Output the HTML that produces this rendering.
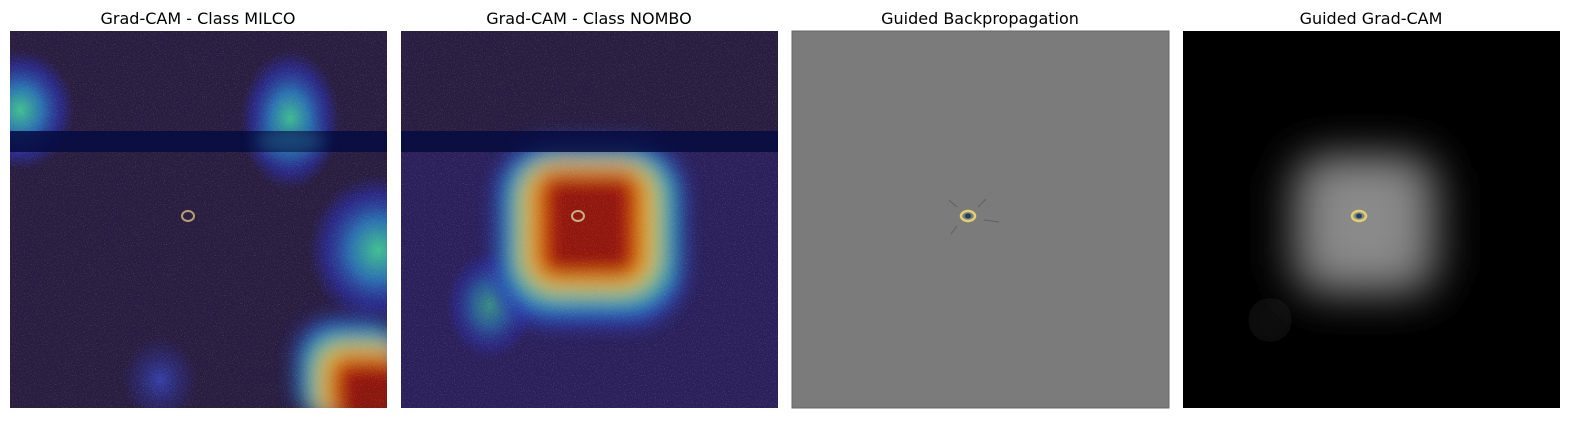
<!DOCTYPE html>
<html><head><meta charset="utf-8"><style>
html,body{margin:0;padding:0;background:#fff;width:1589px;height:423px;overflow:hidden;font-family:"DejaVu Sans","Liberation Sans",sans-serif}
#wrap{position:absolute;left:0;top:0;width:1589px;height:423px;overflow:hidden}
svg{display:block;overflow:hidden}
</style></head><body>
<div id="wrap">
<svg width="1589" height="423" viewBox="0 0 1589 423" xmlns="http://www.w3.org/2000/svg">
<defs>
<filter id="b8" x="-50%" y="-50%" width="200%" height="200%"><feGaussianBlur stdDeviation="8"/></filter>
<filter id="b10a" filterUnits="userSpaceOnUse" x="0" y="0" width="420" height="440"><feGaussianBlur stdDeviation="10"/></filter>
<filter id="b10b" filterUnits="userSpaceOnUse" x="401" y="31" width="377" height="377"><feGaussianBlur stdDeviation="10"/></filter>
<filter id="b20" filterUnits="userSpaceOnUse" x="1183" y="31" width="377" height="377"><feGaussianBlur stdDeviation="20"/></filter>
<filter id="noise" x="0" y="0" width="100%" height="100%"><feTurbulence type="fractalNoise" baseFrequency="0.9" numOctaves="2" seed="3"/><feColorMatrix values="0 0 0 0 0.8  0 0 0 0 0.7  0 0 0 0 0.6  0 0 0 1.4 -0.75"/></filter>
<radialGradient id="cyanBlob"><stop offset="0" stop-color="#40c090"/><stop offset="0.4" stop-color="#2a70b0"/><stop offset="0.75" stop-color="#2a30b0" stop-opacity="0.6"/><stop offset="1" stop-color="#2a2aa0" stop-opacity="0"/></radialGradient>
<radialGradient id="blueBlob"><stop offset="0" stop-color="#3848c0" stop-opacity="0.8"/><stop offset="1" stop-color="#2a2aa0" stop-opacity="0"/></radialGradient>
<clipPath id="c1"><rect x="10" y="31" width="377" height="377"/></clipPath>
<clipPath id="c2"><rect x="401" y="31" width="377" height="377"/></clipPath>
<clipPath id="c4"><rect x="1183" y="31" width="377" height="377"/></clipPath>
</defs>

<text x="198" y="24" text-anchor="middle" font-size="16">Grad-CAM - Class MILCO</text>
<text x="589" y="24" text-anchor="middle" font-size="16">Grad-CAM - Class NOMBO</text>
<text x="980" y="24" text-anchor="middle" font-size="16">Guided Backpropagation</text>
<text x="1371" y="24" text-anchor="middle" font-size="16">Guided Grad-CAM</text>

<g clip-path="url(#c1)">
<rect x="10" y="31" width="377" height="377" fill="#281c40"/>
<ellipse cx="20" cy="110" rx="55" ry="60" fill="url(#cyanBlob)"/>
<ellipse cx="290" cy="120" rx="50" ry="70" fill="url(#cyanBlob)"/>
<ellipse cx="378" cy="250" rx="70" ry="75" fill="url(#cyanBlob)"/>
<ellipse cx="160" cy="380" rx="38" ry="43" fill="url(#blueBlob)"/>
<g filter="url(#b10a)">
<rect x="295" y="318" width="110" height="105" rx="40" fill="#2a40c0"/>
<rect x="305" y="332" width="100" height="91" rx="32" fill="#30b0a0"/>
<rect x="318" y="345" width="87" height="78" rx="25" fill="#e0c020"/>
<rect x="330" y="356" width="75" height="67" rx="16" fill="#d02010"/>
<rect x="342" y="368" width="63" height="55" fill="#8a1410"/>
</g>
<rect x="10" y="31" width="377" height="377" filter="url(#noise)" opacity="0.45"/>
<rect x="10" y="131" width="377" height="21" fill="#050a40" opacity="0.85"/>
<ellipse cx="290" cy="141" rx="35" ry="14" fill="#2a70a0" opacity="0.5" filter="url(#b8)"/>
<ellipse cx="188" cy="216" rx="6" ry="5" fill="none" stroke="#b8a070" stroke-width="2"/>
</g>

<g clip-path="url(#c2)">
<rect x="401" y="31" width="377" height="377" fill="#281c40"/>
<rect x="401" y="152" width="377" height="256" fill="#2a2060" opacity="0.8"/>
<ellipse cx="490" cy="305" rx="45" ry="55" fill="url(#cyanBlob)" opacity="0.7"/>
<g filter="url(#b10b)">
<rect x="495" y="140" width="190" height="185" rx="55" fill="#2a40c0"/>
<rect x="508" y="152" width="165" height="155" rx="45" fill="#30b0a0"/>
<rect x="522" y="162" width="135" height="130" rx="35" fill="#e0c020"/>
<rect x="535" y="170" width="108" height="110" rx="22" fill="#d83010"/>
<rect x="548" y="180" width="82" height="90" fill="#901410"/>
</g>
<rect x="401" y="31" width="377" height="377" filter="url(#noise)" opacity="0.45"/>
<rect x="401" y="131" width="377" height="21" fill="#050a40" opacity="0.85"/>
<ellipse cx="578" cy="216" rx="6" ry="5" fill="none" stroke="#c8b080" stroke-width="2"/>
</g>

<g>
<rect x="792" y="31" width="377" height="377" fill="#7b7b7b" stroke="#666" stroke-width="1"/>
<ellipse cx="968" cy="216" rx="7" ry="5" fill="none" stroke="#e0d070" stroke-width="2.5"/>
<ellipse cx="968" cy="216" rx="3" ry="2.5" fill="#204060"/>
<path d="M957 207 l-8 -7 M978 207 l8 -8 M984 220 l15 2 M957 226 l-6 8" stroke="#606060" stroke-width="1"/>
</g>

<g clip-path="url(#c4)">
<rect x="1183" y="31" width="377" height="377" fill="#000"/>
<ellipse cx="1270" cy="320" rx="22" ry="22" fill="#111" filter="url(#b8)"/>
<g filter="url(#b20)">
<rect x="1285" y="150" width="160" height="150" rx="40" fill="#4a4a4a"/>
<rect x="1310" y="165" width="110" height="115" rx="20" fill="#8a8a8a"/>
</g>
<ellipse cx="1359" cy="216" rx="7" ry="5" fill="none" stroke="#e0d070" stroke-width="2.5"/>
<ellipse cx="1359" cy="216" rx="3" ry="2.5" fill="#204060"/>
</g>
</svg>
</div>
</body></html>
